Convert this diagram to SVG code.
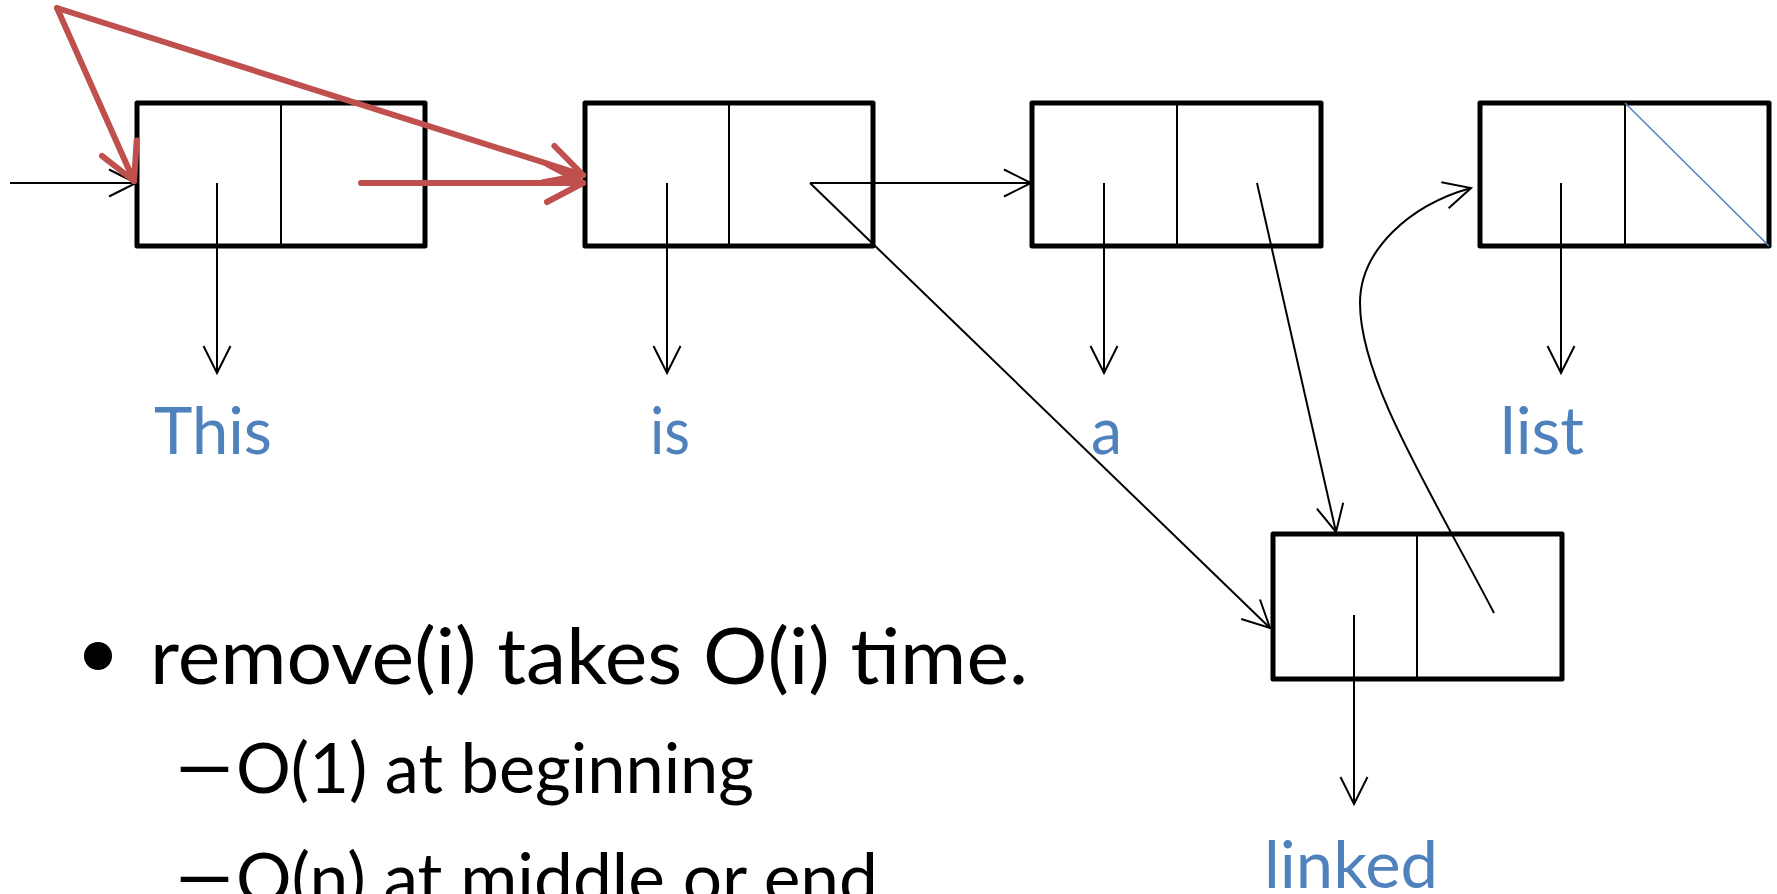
<svg xmlns="http://www.w3.org/2000/svg" width="1777" height="894" viewBox="0 0 1777 894">
  <style>
    .box { fill: #ffffff; stroke: #000000; stroke-width: 5; stroke-linejoin: round; }
    .div { stroke: #000000; stroke-width: 2; }
    .ptr { fill: none; stroke: #000000; stroke-width: 2; }
    .red { fill: none; stroke: #C0504D; stroke-width: 6; stroke-linecap: round; }
    .null { stroke: #4F81BD; stroke-width: 1.5; }
    .label { font-family: Lato, "Open Sans", sans-serif; font-size: 66px; fill: #4F81BD; }
    .body { font-family: Lato, "Open Sans", sans-serif; fill: #000000; }
  </style>
  <defs>
    <marker id="arrow" markerUnits="userSpaceOnUse" markerWidth="40" markerHeight="40" viewBox="-32 -20 40 40" refX="0" refY="0" orient="auto" overflow="visible">
      <path d="M-27,-13.5 L0,0 L-27,13.5" fill="none" stroke="#000000" stroke-width="2"/>
    </marker>
    <marker id="arrowRed" markerUnits="userSpaceOnUse" markerWidth="60" markerHeight="60" viewBox="-45 -30 60 60" refX="0" refY="0" orient="auto" overflow="visible">
      <path d="M-36,-19 L0,0 L-36,19" fill="none" stroke="#C0504D" stroke-width="6" stroke-linecap="round" stroke-linejoin="round"/>
    </marker>
  </defs>
  <rect width="1777" height="894" fill="#ffffff"/>

  <!-- list cells -->
  <g id="node-this">
    <rect class="box" x="137" y="103" width="288" height="143"/>
    <line class="div" x1="281" y1="103" x2="281" y2="246"/>
  </g>
  <g id="node-is">
    <rect class="box" x="585" y="103" width="288" height="143"/>
    <line class="div" x1="729" y1="103" x2="729" y2="246"/>
  </g>
  <g id="node-a">
    <rect class="box" x="1032" y="103" width="289" height="143"/>
    <line class="div" x1="1177" y1="103" x2="1177" y2="246"/>
  </g>
  <g id="node-list">
    <rect class="box" x="1480" y="103" width="289" height="143"/>
    <line class="div" x1="1625" y1="103" x2="1625" y2="246"/>
    <line class="null" x1="1625" y1="103" x2="1769" y2="246"/>
  </g>
  <g id="node-linked">
    <rect class="box" x="1273" y="534" width="289" height="145"/>
    <line class="div" x1="1417" y1="534" x2="1417" y2="679"/>
  </g>

  <!-- pointers -->
  <g id="connectors">
    <line class="ptr" x1="10" y1="183" x2="136" y2="183" marker-end="url(#arrow)"/>
    <line class="ptr" x1="217" y1="183" x2="217" y2="373" marker-end="url(#arrow)"/>
    <line class="ptr" x1="667" y1="183" x2="667" y2="373" marker-end="url(#arrow)"/>
    <line class="ptr" x1="1104" y1="183" x2="1104" y2="373" marker-end="url(#arrow)"/>
    <line class="ptr" x1="1561" y1="183" x2="1561" y2="373" marker-end="url(#arrow)"/>
    <line class="ptr" x1="1354" y1="615" x2="1354" y2="804" marker-end="url(#arrow)"/>
    <line class="ptr" x1="810" y1="183" x2="1031" y2="183" marker-end="url(#arrow)"/>
    <line class="ptr" x1="810" y1="183" x2="1270" y2="628" marker-end="url(#arrow)"/>
    <line class="ptr" x1="1257" y1="183" x2="1336" y2="532" marker-end="url(#arrow)"/>
    <path class="ptr" d="M1494,613 C1430,490 1360,380 1360,303 C1360,250 1410,205 1471,188" marker-end="url(#arrow)"/>
    <!-- removal of the first cell -->
    <line class="red" x1="57" y1="8" x2="134" y2="181" marker-end="url(#arrowRed)"/>
    <line class="red" x1="57" y1="8" x2="583" y2="175" marker-end="url(#arrowRed)"/>
    <line class="red" x1="361" y1="183" x2="583" y2="183" marker-end="url(#arrowRed)"/>
  </g>

  <!-- element labels -->
  <g id="labels">
    <text class="label" x="154" y="454" textLength="118" lengthAdjust="spacingAndGlyphs">This</text>
    <text class="label" x="650" y="454" textLength="40" lengthAdjust="spacingAndGlyphs">is</text>
    <text class="label" x="1091" y="454" textLength="31" lengthAdjust="spacingAndGlyphs">a</text>
    <text class="label" x="1500" y="454" textLength="84" lengthAdjust="spacingAndGlyphs">list</text>
    <text class="label" x="1264" y="888" textLength="174" lengthAdjust="spacingAndGlyphs">linked</text>
  </g>

  <!-- bullet text -->
  <g id="notes">
    <circle cx="98" cy="656" r="14" fill="#000000"/>
    <text class="body" x="150" y="684" font-size="78" textLength="878" lengthAdjust="spacingAndGlyphs">remove(i) takes O(i) time.</text>
    <text class="body" font-size="70" transform="translate(170,793) scale(1.7,1.15)" x="0" y="0">–</text>
    <text class="body" x="236" y="793" font-size="70" textLength="518" lengthAdjust="spacingAndGlyphs">O(1) at beginning</text>
    <text class="body" font-size="70" transform="translate(170,903) scale(1.7,1.15)" x="0" y="0">–</text>
    <text class="body" x="236" y="903" font-size="70" textLength="642" lengthAdjust="spacingAndGlyphs">O(n) at middle or end</text>
  </g>
</svg>
